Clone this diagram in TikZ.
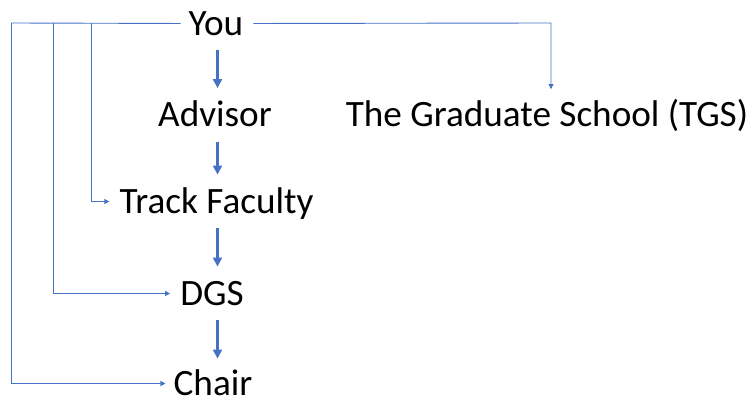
\documentclass[tikz,border=0pt]{standalone}
\usepackage{fontspec}
\setmainfont{Carlito}
\usepackage{tikz}
\usetikzlibrary{arrows.meta}
\usetikzlibrary{calc}

\definecolor{offblue}{HTML}{4472C4}

\begin{document}
\begin{tikzpicture}[x=1pt, y=-1pt, auto,swap,
    role/.style={inner sep=0pt, text height=23.5pt, text depth=0pt, font=\fontsize{37.2}{40}\selectfont},
    bigarrow/.style={offblue, line width=2.4pt, -{Triangle[length=9pt, width=9pt]}, shorten <=15pt, shorten >=15pt},
    thinline/.style={offblue, line width=0.9pt},
    thinarrow/.style={thinline, -{Triangle[length=5pt, width=5pt]}}]
    % page frame
    \useasboundingbox (0,0) rectangle (752,398);

   % the people, top to bottom
    \foreach \x/\y/\name/\id in {{216/23.5/You/You}, {215/115/Advisor/Adv}, {216.5/201.5/Track Faculty/Track}, {212/293.5/DGS/DGS}, {213/383.5/Chair/Chair}, {547/115/The Graduate School (TGS)/TGS}}
        \node[role] (\id) at (\x, \y) {\name};

   % chain down the middle
    \coordinate (spine) at (217.5, 0);
    \draw[bigarrow] (You.south -| spine) -- (Adv.north -| spine);
    \draw[bigarrow] (Adv.south -| spine) -- (Track.north -| spine);
    \draw[bigarrow] (Track.south -| spine) -- (DGS.north -| spine);
    \draw[bigarrow, shorten >=13pt] (DGS.south -| spine) -- (Chair.north -| spine);

   % side lines from You
    \coordinate (k1) at (11.5, 23);
    \coordinate (k2) at (53, 23);
    \coordinate (k3) at (91.5, 23);
    \coordinate (k4) at (551, 23);

    \draw[thinarrow, shorten <=8pt, shorten >=8pt] (You.west) -- (k1) |- (Chair.west);
    \draw[thinarrow, shorten >=10pt] (k2) |- (DGS.west);
    \draw[thinarrow, shorten >=10pt] (k3) |- (Track.west);
    \draw[thinarrow, shorten <=10pt, shorten >=14pt] (You.east) -- (k4) -- (k4 |- TGS.north);

   \end{tikzpicture}
\end{document}
